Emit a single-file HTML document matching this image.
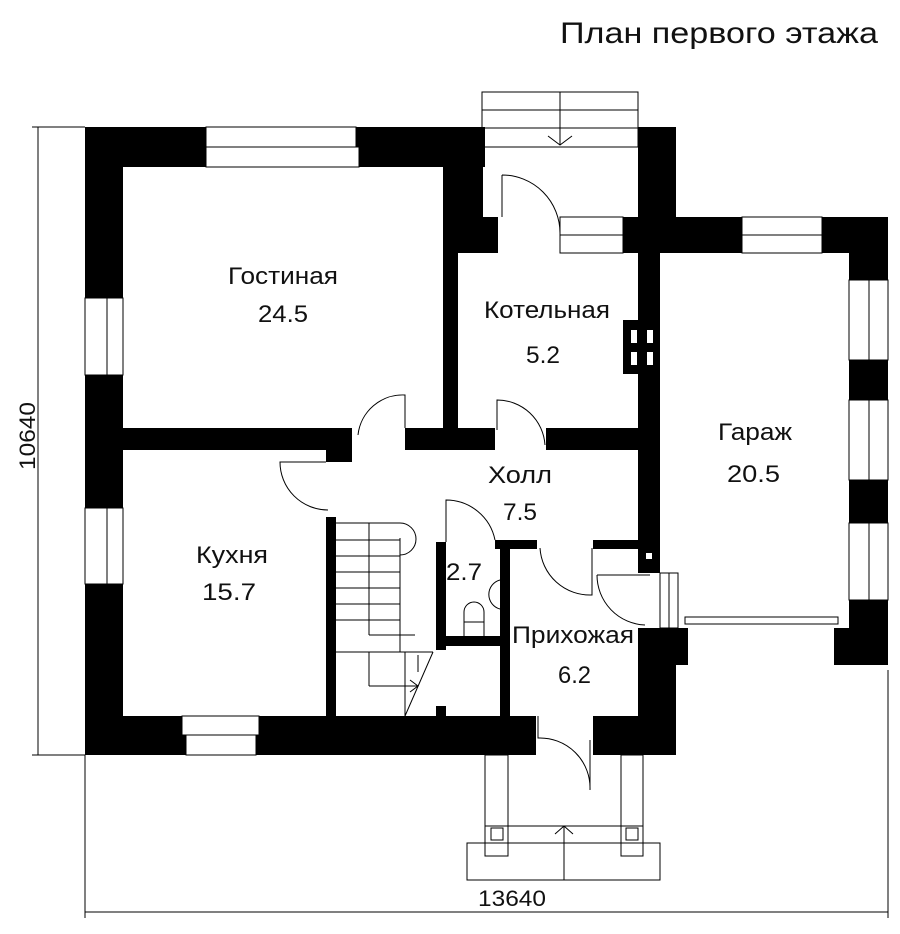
<!DOCTYPE html>
<html><head><meta charset="utf-8"><style>html,body{margin:0;padding:0;background:#fff;}svg{display:block}</style></head>
<body>
<svg width="900" height="934" viewBox="0 0 900 934" xmlns="http://www.w3.org/2000/svg" font-family="Liberation Sans, sans-serif">
<rect width="900" height="934" fill="#fff"/>
<text x="560" y="43" font-size="30" fill="#111" textLength="318" lengthAdjust="spacingAndGlyphs">План первого этажа</text>

<g fill="#000">
<rect x="85" y="127" width="400" height="40"/>
<rect x="85" y="127" width="38" height="628"/>
<rect x="443" y="127" width="15" height="323"/>
<rect x="443" y="127" width="40" height="90"/>
<rect x="458" y="217" width="40" height="36"/>
<rect x="458" y="217" width="25" height="20"/>
<rect x="85" y="428" width="267" height="22"/>
<rect x="326" y="428" width="26" height="34"/>
<rect x="405" y="428" width="90" height="22"/>
<rect x="546" y="428" width="92" height="22"/>
<rect x="638" y="127" width="38" height="126"/>
<rect x="623" y="217" width="265" height="36"/>
<rect x="638" y="253" width="22" height="320"/>
<rect x="623" y="320" width="37" height="54"/>
<rect x="849" y="217" width="39" height="448"/>
<rect x="834" y="628" width="54" height="37"/>
<rect x="638" y="628" width="50" height="37"/>
<rect x="638" y="628" width="38" height="127"/>
<rect x="85" y="716" width="451" height="39"/>
<rect x="593" y="716" width="83" height="39"/>
<rect x="326" y="517" width="10" height="199"/>
<rect x="436" y="542" width="10" height="108"/>
<rect x="436" y="706" width="10" height="12"/>
<rect x="495" y="540" width="42" height="9"/>
<rect x="593" y="540" width="45" height="9"/>
<rect x="500" y="540" width="10" height="176"/>
<rect x="446" y="636" width="54" height="10"/>
</g>

<g fill="#fff" stroke="#000" stroke-width="1">
<rect x="206" y="127" width="150" height="20"/>
<rect x="206" y="147" width="153" height="20"/>
<rect x="85" y="298" width="22" height="77"/>
<rect x="107" y="298" width="16" height="77"/>
<rect x="85" y="508" width="22" height="76"/>
<rect x="107" y="508" width="16" height="76"/>
<rect x="182" y="716" width="77" height="19"/>
<rect x="186" y="735" width="70" height="20"/>
<rect x="560" y="217" width="63" height="18"/>
<rect x="560" y="235" width="63" height="18"/>
<rect x="742" y="217" width="80" height="18"/>
<rect x="742" y="235" width="80" height="18"/>
<rect x="849" y="280" width="20" height="80"/>
<rect x="869" y="280" width="19" height="80"/>
<rect x="849" y="400" width="20" height="80"/>
<rect x="869" y="400" width="19" height="80"/>
<rect x="849" y="523" width="20" height="77"/>
<rect x="869" y="523" width="19" height="77"/>
<rect x="631" y="330" width="6" height="13" stroke="none"/>
<rect x="647" y="330" width="6" height="13" stroke="none"/>
<rect x="631" y="352" width="6" height="13" stroke="none"/>
<rect x="647" y="352" width="6" height="13" stroke="none"/>
<rect x="646" y="553" width="6" height="6" stroke="none"/>
</g>

<g fill="none" stroke="#000" stroke-width="1">
<rect x="482" y="92" width="156" height="55"/>
<line x1="482" y1="110" x2="638" y2="110"/>
<line x1="482" y1="128" x2="638" y2="128"/>
<line x1="560" y1="92" x2="560" y2="145"/>
<polyline points="548,136 560,145 572,136"/>
<path d="M502,175 L502,217 M502,175 A58,58 0 0 1 560,233"/>
<path d="M405,428 L405,395 A45,45 0 0 0 358,435"/>
<path d="M497,430 L497,400 A48,48 0 0 1 545,445"/>
<path d="M326,462 L280,462 A48,48 0 0 0 328,510"/>
<path d="M446,542 L446,500 A50,50 0 0 1 495,540"/>
<path d="M592,548 L592,595 A50,50 0 0 1 540,548"/>
<path d="M597,575 L650,575 M597,575 A50,50 0 0 0 645,625"/>
<path d="M538,716 L538,738 A50,50 0 0 1 590,790 L590,740"/>
<rect x="660" y="573" width="18" height="55"/>
<line x1="669" y1="573" x2="669" y2="628"/>
<rect x="685" y="617" width="153" height="7"/>
<path d="M500,580 A15,15 0 0 0 500,609"/>
<path d="M464,636 L464,612 A10,10 0 0 1 484,612 L484,636"/>
<line x1="464" y1="622" x2="484" y2="622"/>
<line x1="336" y1="523" x2="400" y2="523"/>
<line x1="369" y1="523" x2="369" y2="635"/>
<path d="M400,523 A16,16 0 0 1 400,555"/>
<line x1="400" y1="538" x2="400" y2="652"/>
<line x1="369" y1="635" x2="415" y2="635"/>
<line x1="336" y1="540" x2="400" y2="540"/>
<line x1="336" y1="556" x2="400" y2="556"/>
<line x1="336" y1="572" x2="400" y2="572"/>
<line x1="336" y1="588" x2="400" y2="588"/>
<line x1="336" y1="604" x2="400" y2="604"/>
<line x1="336" y1="620" x2="400" y2="620"/>
<line x1="336" y1="652" x2="433" y2="652"/>
<line x1="369" y1="652" x2="369" y2="686"/>
<line x1="369" y1="686" x2="418" y2="686"/>
<line x1="405" y1="652" x2="405" y2="716"/>
<line x1="433" y1="652" x2="405" y2="716"/>
<line x1="418" y1="655" x2="418" y2="672"/>
<polyline points="410,680 418,686 410,692"/>
<rect x="485" y="755" width="23" height="101"/>
<rect x="621" y="755" width="22" height="101"/>
<rect x="491" y="828" width="12" height="12"/>
<rect x="626" y="828" width="12" height="12"/>
<line x1="485" y1="826" x2="643" y2="826"/>
<rect x="467" y="843" width="193" height="37"/>
<line x1="564" y1="826" x2="564" y2="880"/>
<polyline points="555,834 564,826 573,834"/>
<line x1="38" y1="127" x2="38" y2="755"/>
<line x1="32" y1="127" x2="85" y2="127"/>
<line x1="32" y1="755" x2="85" y2="755"/>
<line x1="85" y1="912" x2="888" y2="912"/>
<line x1="85" y1="755" x2="85" y2="918"/>
<line x1="888" y1="670" x2="888" y2="918"/>
</g>

<g font-size="24" fill="#111" lengthAdjust="spacingAndGlyphs">
<text x="228" y="284" textLength="110" lengthAdjust="spacingAndGlyphs">Гостиная</text>
<text x="258" y="322" textLength="50" lengthAdjust="spacingAndGlyphs">24.5</text>
<text x="484" y="318" textLength="126" lengthAdjust="spacingAndGlyphs">Котельная</text>
<text x="526" y="363" textLength="34" lengthAdjust="spacingAndGlyphs">5.2</text>
<text x="718" y="440" textLength="74" lengthAdjust="spacingAndGlyphs">Гараж</text>
<text x="727" y="482" textLength="53" lengthAdjust="spacingAndGlyphs">20.5</text>
<text x="488" y="483" textLength="64" lengthAdjust="spacingAndGlyphs">Холл</text>
<text x="503" y="520" textLength="34" lengthAdjust="spacingAndGlyphs">7.5</text>
<text x="196" y="563" textLength="72" lengthAdjust="spacingAndGlyphs">Кухня</text>
<text x="202" y="600" textLength="54" lengthAdjust="spacingAndGlyphs">15.7</text>
<text x="446" y="580" textLength="36" lengthAdjust="spacingAndGlyphs">2.7</text>
<text x="512" y="643" textLength="122" lengthAdjust="spacingAndGlyphs">Прихожая</text>
<text x="558" y="683" textLength="33" lengthAdjust="spacingAndGlyphs">6.2</text>
<text x="478" y="906" font-size="22" textLength="68" lengthAdjust="spacingAndGlyphs">13640</text>
<text x="0" y="0" font-size="22" textLength="68" lengthAdjust="spacingAndGlyphs" transform="translate(35,470) rotate(-90)">10640</text>
</g>
</svg>
</body></html>
